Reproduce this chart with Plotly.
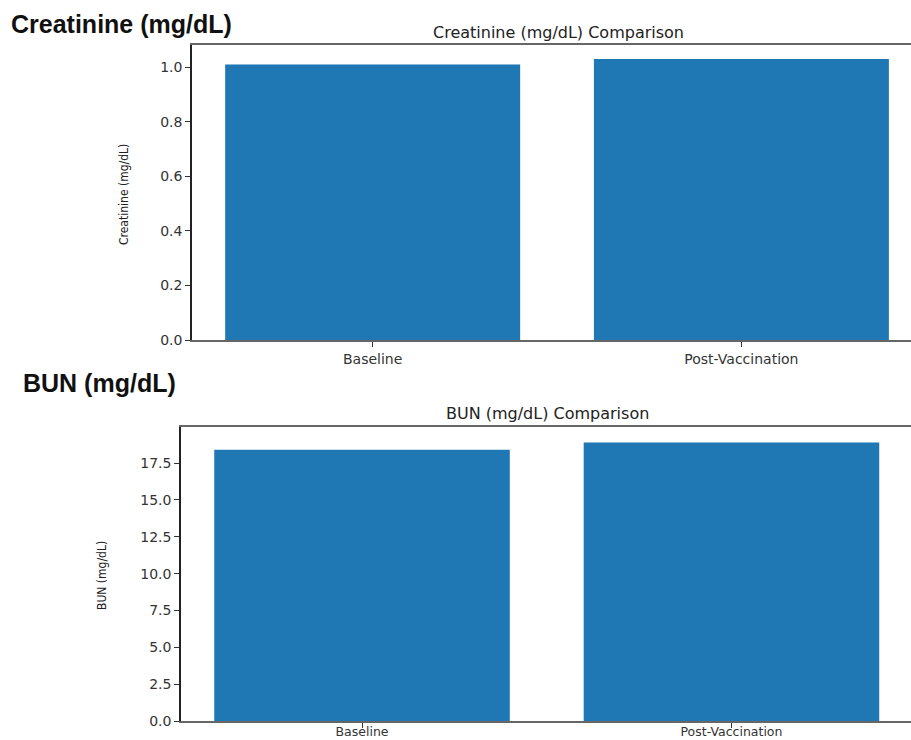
import plotly.graph_objects as go

categories = ["Baseline", "Post-Vaccination"]
creatinine_values = [1.01, 1.03]
bun_values = [18.4, 18.9]
creat_ticks = [0.0, 0.2, 0.4, 0.6, 0.8, 1.0]
bun_ticks = [0.0, 2.5, 5.0, 7.5, 10.0, 12.5, 15.0, 17.5]

W, H = 911, 740
BAR = "#1f77b4"
TICK_FONT = dict(family="DejaVu Sans", size=14, color="#333333")

def px_x(x):
    return x / W

def px_y(y):
    return 1 - y / H

fig = go.Figure()
fig.add_trace(go.Bar(x=categories, y=creatinine_values, marker_color=BAR,
                     marker_line_width=0, width=0.8, xaxis="x", yaxis="y",
                     showlegend=False))
fig.add_trace(go.Bar(x=categories, y=bun_values, marker_color=BAR,
                     marker_line_width=0, width=0.8, xaxis="x2", yaxis="y2",
                     showlegend=False))

common_x = dict(showgrid=False, zeroline=False, showline=True, linecolor="#666666",
                linewidth=1.5, mirror=True, ticks="outside", ticklen=5, tickwidth=1.2,
                tickcolor="#333333", fixedrange=True)
common_y = dict(showgrid=False, zeroline=False, showline=True, linecolor="#222222",
                linewidth=1.5, ticks="outside", ticklen=5, tickwidth=1.2,
                tickcolor="#333333", tickfont=TICK_FONT, fixedrange=True)

fig.update_layout(
    width=W, height=H,
    margin=dict(l=0, r=0, t=0, b=0, pad=0, autoexpand=False),
    paper_bgcolor="white", plot_bgcolor="white",
    xaxis=dict(domain=[px_x(192), 1.0], range=[-0.49, 1.46], anchor="y",
               tickfont=TICK_FONT, **common_x),
    yaxis=dict(domain=[px_y(340), px_y(45)], range=[0, 1.0815], anchor="x",
               tickvals=creat_ticks, ticktext=[f"{v:.1f}" for v in creat_ticks], **common_y),
    xaxis2=dict(domain=[px_x(181), 1.0], range=[-0.49, 1.486], anchor="y2",
                tickfont=dict(family="DejaVu Sans", size=12.5, color="#333333"),
                ticklabelstandoff=-7, **common_x),
    yaxis2=dict(domain=[px_y(721), px_y(427)], range=[0, 19.95], anchor="x2",
                tickvals=bun_ticks, ticktext=[f"{v:.1f}" for v in bun_ticks], **common_y),
)

annotations = [
    dict(text="<b>Creatinine (mg/dL)</b>", x=px_x(9), y=px_y(24), xanchor="left", yanchor="middle",
         font=dict(family="Liberation Sans", size=25, color="#111111")),
    dict(text="<b>BUN (mg/dL)</b>", x=px_x(21), y=px_y(383), xanchor="left", yanchor="middle",
         font=dict(family="Liberation Sans", size=25, color="#111111")),
    dict(text="Creatinine (mg/dL) Comparison", x=px_x(558), y=px_y(33), xanchor="center", yanchor="middle",
         font=dict(family="DejaVu Sans", size=16, color="#222222")),
    dict(text="BUN (mg/dL) Comparison", x=px_x(547), y=px_y(414), xanchor="center", yanchor="middle",
         font=dict(family="DejaVu Sans", size=16, color="#222222")),
    dict(text="Creatinine (mg/dL)", x=px_x(124), y=px_y(194), xanchor="center", yanchor="middle",
         textangle=-90, font=dict(family="DejaVu Sans Condensed, DejaVu Sans", size=12, color="#222222")),
    dict(text="BUN (mg/dL)", x=px_x(102), y=px_y(576), xanchor="center", yanchor="middle",
         textangle=-90, font=dict(family="DejaVu Sans Condensed, DejaVu Sans", size=12, color="#222222")),
]
for a in annotations:
    a.update(xref="paper", yref="paper", showarrow=False)
fig.update_layout(annotations=annotations)

fig.write_html("out.html",
               config={"displayModeBar": False},
               post_script="document.body.style.margin='0';document.body.style.padding='0';"
                           "document.body.style.overflow='hidden';")
